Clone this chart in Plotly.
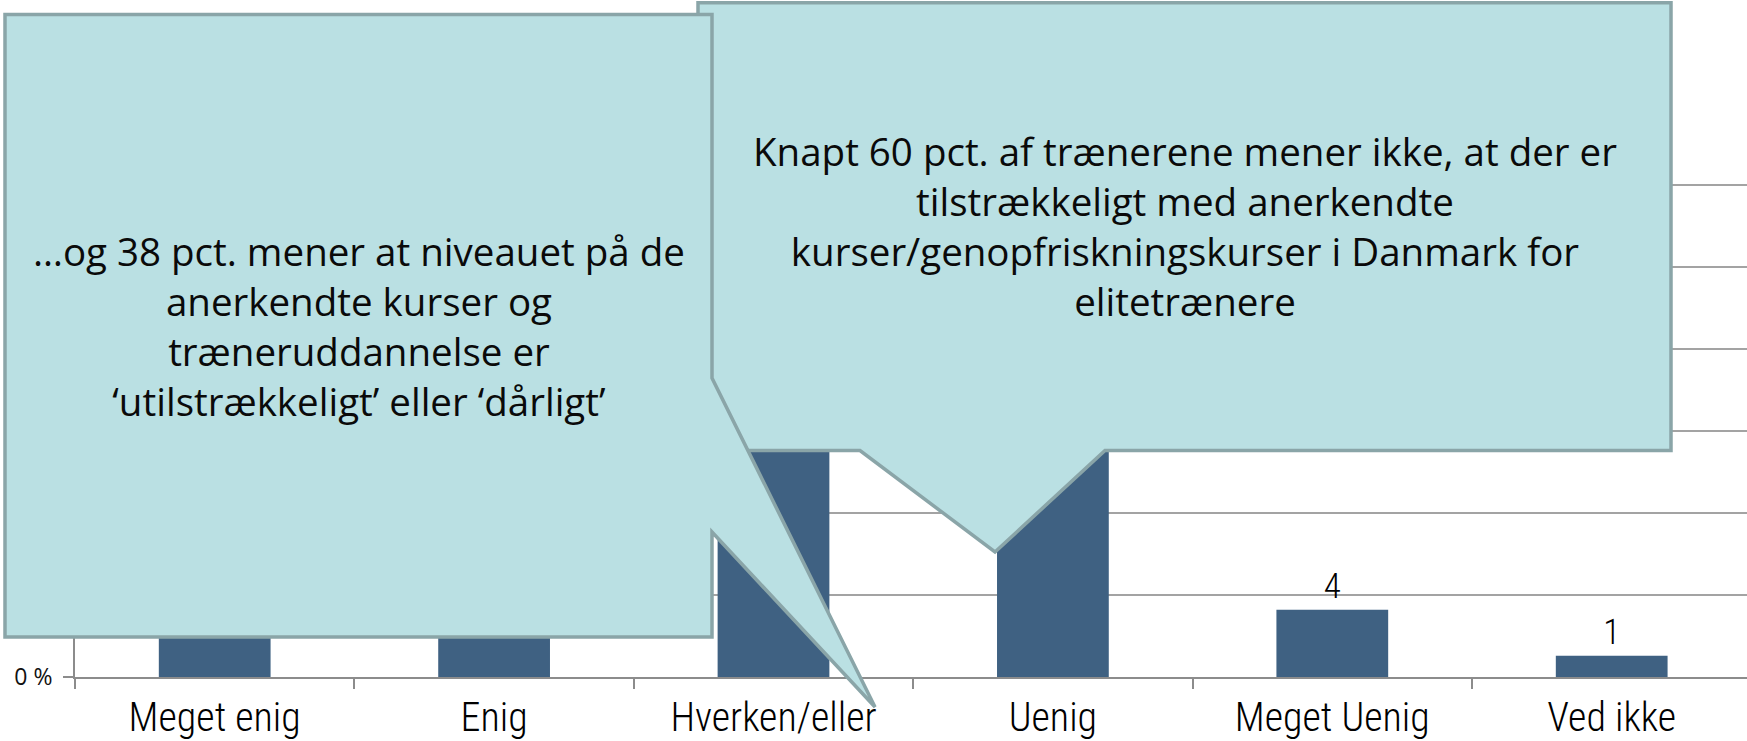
import plotly.graph_objects as go

# ---------------- data ----------------
categories = ["Meget enig", "Enig", "Hverken/eller", "Uenig", "Meget Uenig", "Ved ikke"]
values = [8.2, 24.7, 28.8, 32.9, 4.1, 1.3]          # percent (first four hidden behind callouts, estimated)
label_visible = [False, False, False, False, True, True]  # labels of hidden bars lie under callouts
y_ticks = [0, 5, 10, 15, 20, 25, 30, 35]
y_ticktext = ["0 %", "", "", "", "", "", "", ""]   # only "0 %" is visible in the reference

left_text_lines = [
    "…og 38 pct. mener at niveauet på de",
    "anerkendte kurser og",
    "træneruddannelse er",
    "‘utilstrækkeligt’ eller ‘dårligt’",
]
right_text_lines = [
    "Knapt 60 pct. af trænerene mener ikke, at der er",
    "tilstrækkeligt med anerkendte",
    "kurser/genopfriskningskurser i Danmark for",
    "elitetrænere",
]

# ---------------- style ----------------
W, H = 1747, 741
M_L, M_R, M_T, M_B = 75, 0, 103, 64
BAR_COLOR = "#3F6182"
CALLOUT_FILL = "#BAE0E3"
CALLOUT_LINE = "#8AA5A8"
GRID = "#A3A3A3"
AXIS = "#8C8C8C"
CAT_W = 279.4  # px per category
TXT_FONT = "'Open Sans', 'Noto Sans', sans-serif"
CAT_FONT = "'Roboto Condensed', 'Liberation Sans Narrow', 'DejaVu Sans Condensed', 'Liberation Sans', sans-serif"

plot_w = W - M_L - M_R
plot_h = H - M_T - M_B


def px2paper(px, py):
    return (px - M_L) / plot_w, (H - M_B - py) / plot_h


def path_from_px(points):
    pts = [px2paper(x, y) for x, y in points]
    return "M " + " L ".join(f"{x:.5f},{y:.5f}" for x, y in pts) + " Z"


# callout outlines in page pixels
right_callout = [(698, 2.7), (1671, 2.7), (1671, 450.5), (1105, 450.5), (995, 552),
                 (860, 450.5), (698, 450.5)]
left_callout = [(5, 14.5), (712, 14.5), (712, 378), (875, 707), (712, 532),
                (712, 637), (5, 637)]

bar_text = [f"{v:.0f}" if show else "" for v, show in zip(values, label_visible)]

fig = go.Figure()
fig.add_trace(go.Bar(
    x=categories, y=values, width=0.4,
    marker=dict(color=BAR_COLOR, line=dict(width=0)),
    text=bar_text, texttemplate="%{text}", textposition="outside",
    textfont=dict(family=CAT_FONT, size=35, color="#000000", weight=300),
    cliponaxis=False,
))

fig.update_layout(
    width=W, height=H,
    margin=dict(l=M_L, r=M_R, t=M_T, b=M_B, pad=0),
    paper_bgcolor="white", plot_bgcolor="white",
    showlegend=False,
    xaxis=dict(
        type="category", range=[-0.5, -0.5 + plot_w / CAT_W],
        showgrid=False, showline=True, linecolor=AXIS, linewidth=2,
        ticks="outside", tickson="boundaries", ticklen=10, tickcolor=AXIS, tickwidth=1.5,
        ticklabelstandoff=4,
        tickfont=dict(family=CAT_FONT, size=40, color="#000000", weight=300),
    ),
    yaxis=dict(
        range=[0, 35], tickvals=y_ticks, ticktext=y_ticktext,
        showgrid=True, gridcolor=GRID, gridwidth=1.5, zeroline=False,
        showline=True, linecolor=AXIS, linewidth=2,
        ticks="outside", ticklen=10, tickcolor=AXIS, tickwidth=1.5,
        ticklabelstandoff=6,
        tickfont=dict(family=TXT_FONT, size=23, color="#111111"),
    ),
    shapes=[
        dict(type="path", xref="paper", yref="paper", path=path_from_px(right_callout),
             fillcolor=CALLOUT_FILL, line=dict(color=CALLOUT_LINE, width=3.5), layer="above"),
        dict(type="path", xref="paper", yref="paper", path=path_from_px(left_callout),
             fillcolor=CALLOUT_FILL, line=dict(color=CALLOUT_LINE, width=3.5), layer="above"),
    ],
)

lx, ly = px2paper(358.5, 326)
rx, ry = px2paper(1184.5, 226)
fig.add_annotation(x=lx, y=ly, xref="paper", yref="paper", xanchor="center", yanchor="middle",
                   text="<br>".join(left_text_lines), showarrow=False, align="center",
                   font=dict(family=TXT_FONT, size=38.5, color="#0a0a0a"))
fig.add_annotation(x=rx, y=ry, xref="paper", yref="paper", xanchor="center", yanchor="middle",
                   text="<br>".join(right_text_lines), showarrow=False, align="center",
                   font=dict(family=TXT_FONT, size=38.5, color="#0a0a0a"))

fig.write_html("out.html", config={"displayModeBar": False},
               post_script="document.body.style.margin='0px';")
